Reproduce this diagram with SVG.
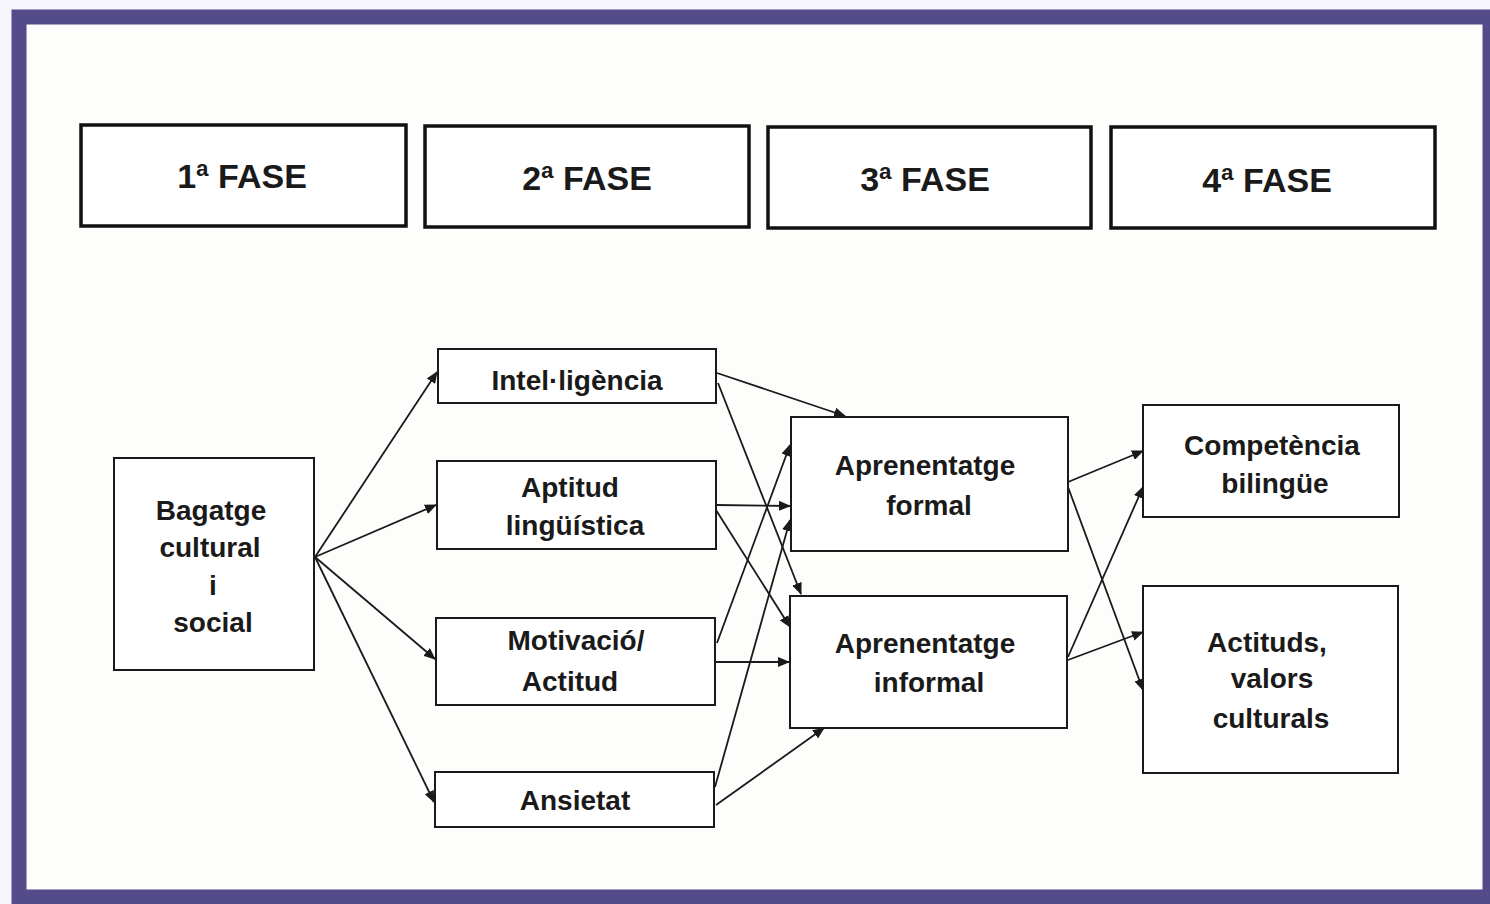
<svg xmlns="http://www.w3.org/2000/svg" width="1490" height="904" viewBox="0 0 1490 904">
<style>
.phase{fill:#fff;stroke:#111;stroke-width:3.5}
.node{fill:#fff;stroke:#1a1a1a;stroke-width:2}
.pt{font-family:"Liberation Sans",Arial,sans-serif;font-size:34px;font-weight:bold;fill:#1a1a1a;text-anchor:middle}
.nt{font-family:"Liberation Sans",Arial,sans-serif;font-size:28px;font-weight:bold;fill:#1a1a1a;text-anchor:middle}
.c line{stroke:#1a1a1a;stroke-width:1.8;fill:none;marker-end:url(#ah)}
</style>
<defs>
<marker id="ah" markerUnits="userSpaceOnUse" markerWidth="12" markerHeight="10" viewBox="0 0 12 10" refX="11" refY="5" orient="auto">
<path d="M0,0 L12,5 L0,10 Z" fill="#1a1a1a"/>
</marker>
</defs>
<rect x="0" y="0" width="1490" height="904" fill="#f6f5fb"/>
<rect x="19" y="17" width="1471" height="880" fill="#fdfdfb" stroke="#544b8b" stroke-width="15"/>

<g id="fase1"><rect class="phase" x="81" y="125" width="325" height="101"/><text class="pt" x="242" y="188">1ª FASE</text></g>
<g id="fase2"><rect class="phase" x="425" y="126" width="324" height="101"/><text class="pt" x="587" y="190">2ª FASE</text></g>
<g id="fase3"><rect class="phase" x="768" y="127" width="323" height="101"/><text class="pt" x="925" y="191">3ª FASE</text></g>
<g id="fase4"><rect class="phase" x="1111" y="127" width="324" height="101"/><text class="pt" x="1267" y="192">4ª FASE</text></g>

<g id="bagatge"><rect class="node" x="114" y="458" width="200" height="212"/>
<text class="nt" x="211" y="520">Bagatge</text><text class="nt" x="210" y="557">cultural</text><text class="nt" x="213" y="595">i</text><text class="nt" x="213" y="632">social</text></g>

<g id="intelligencia"><rect class="node" x="438" y="349" width="278" height="54"/><text class="nt" x="577" y="390">Intel·ligència</text></g>
<g id="aptitud"><rect class="node" x="437" y="461" width="279" height="88"/><text class="nt" x="570" y="497">Aptitud</text><text class="nt" x="575" y="535">lingüística</text></g>
<g id="motivacio"><rect class="node" x="436" y="618" width="279" height="87"/><text class="nt" x="576" y="650">Motivació/</text><text class="nt" x="570" y="691">Actitud</text></g>
<g id="ansietat"><rect class="node" x="435" y="772" width="279" height="55"/><text class="nt" x="575" y="810">Ansietat</text></g>

<g id="formal"><rect class="node" x="791" y="417" width="277" height="134"/><text class="nt" x="925" y="475">Aprenentatge</text><text class="nt" x="929" y="515">formal</text></g>
<g id="informal"><rect class="node" x="790" y="596" width="277" height="132"/><text class="nt" x="925" y="653">Aprenentatge</text><text class="nt" x="929" y="692">informal</text></g>

<g id="competencia"><rect class="node" x="1143" y="405" width="256" height="112"/><text class="nt" x="1272" y="455">Competència</text><text class="nt" x="1275" y="493">bilingüe</text></g>
<g id="actituds"><rect class="node" x="1143" y="586" width="255" height="187"/><text class="nt" x="1267" y="652">Actituds,</text><text class="nt" x="1272" y="688">valors</text><text class="nt" x="1271" y="728">culturals</text></g>

<g id="connectors" class="c">
<line x1="315" y1="557" x2="437" y2="372"/>
<line x1="315" y1="557" x2="436" y2="505"/>
<line x1="315" y1="557" x2="435" y2="659"/>
<line x1="315" y1="557" x2="434" y2="802"/>
<line x1="717" y1="373" x2="845" y2="416"/>
<line x1="718" y1="383" x2="801" y2="594"/>
<line x1="716" y1="505" x2="790" y2="506"/>
<line x1="716" y1="510" x2="790" y2="627"/>
<line x1="717" y1="643" x2="790" y2="445"/>
<line x1="716" y1="662" x2="789" y2="662"/>
<line x1="715" y1="787" x2="790" y2="520"/>
<line x1="716" y1="805" x2="824" y2="728"/>
<line x1="1068" y1="482" x2="1143" y2="451"/>
<line x1="1068" y1="487" x2="1143" y2="690"/>
<line x1="1068" y1="657" x2="1143" y2="487"/>
<line x1="1068" y1="660" x2="1143" y2="632"/>
</g>
</svg>
